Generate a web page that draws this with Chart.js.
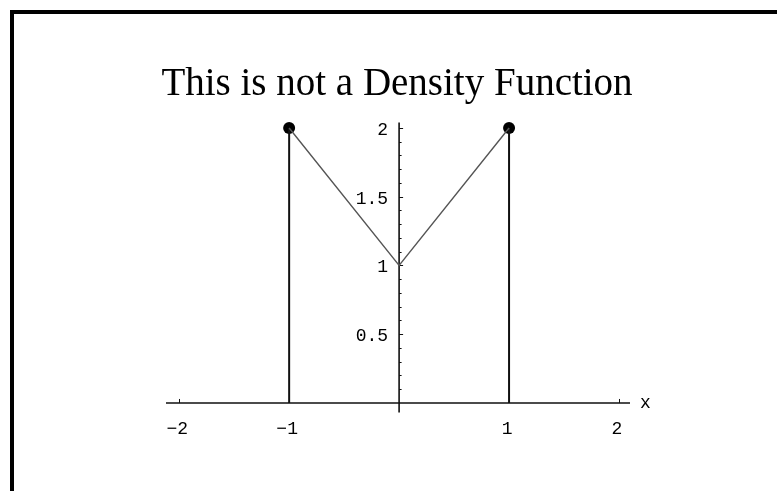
<!DOCTYPE html>
<html>
<head>
<meta charset="utf-8">
<script src="https://cdn.jsdelivr.net/npm/chart.js@4"></script>
<style>
  html, body { margin: 0; padding: 0; background: #fff; }
  #wrap { width: 777px; height: 491px; position: relative; }
</style>
</head>
<body>
<div id="wrap"><canvas id="densityChart" width="777" height="491"></canvas></div>
<script>
// the function f(x) on [-1, 1]
const fnX = [-1, 0, 1];
const fnY = [2, 1, 2];
// vertical segments at the ends of the support
const stemX = [-1, 1];
const stemY = [2, 2];
// axis ticks
const xTicks = [-2, -1, 1, 2];
const yTicks = [0.5, 1, 1.5, 2];
const yMinor = [0.1, 0.2, 0.3, 0.4, 0.6, 0.7, 0.8, 0.9, 1.1, 1.2, 1.3, 1.4, 1.6, 1.7, 1.8, 1.9];
const titleText = 'This is not a Density Function';

const fmt = v => (v < 0 ? '\u2212' : '') + Math.abs(v);

// Mathematica style axes crossing at the origin
const axesPlugin = {
    id: 'mmaAxes',
    beforeDraw(chart) {
        const { ctx, scales: { x, y } } = chart;
        ctx.save();
        // frame (left + top only)
        ctx.fillStyle = '#000';
        ctx.fillRect(10, 10, 767, 4);
        ctx.fillRect(10, 10, 4, 481);

        // title
        ctx.fillStyle = '#000';
        ctx.font = '39px "Liberation Serif", "Times New Roman", serif';
        ctx.textAlign = 'center';
        ctx.textBaseline = 'alphabetic';
        ctx.fillText(titleText, 397, 95);

        const x0 = x.getPixelForValue(0);
        const y0 = y.getPixelForValue(0);
        ctx.strokeStyle = '#111';
        ctx.lineWidth = 1.6;
        ctx.beginPath();
        ctx.moveTo(x.left, y0); ctx.lineTo(x.right, y0);
        ctx.moveTo(x0, y.bottom); ctx.lineTo(x0, y.top);
        ctx.stroke();

        ctx.lineWidth = 1;
        ctx.beginPath();
        xTicks.forEach(v => {
            const px = Math.round(x.getPixelForValue(v)) + 0.5;
            ctx.moveTo(px, y0); ctx.lineTo(px, y0 - 4);
        });
        yTicks.forEach(v => {
            const py = Math.round(y.getPixelForValue(v)) + 0.5;
            ctx.moveTo(x0, py); ctx.lineTo(x0 + 4, py);
        });
        yMinor.forEach(v => {
            const py = Math.round(y.getPixelForValue(v)) + 0.5;
            ctx.moveTo(x0, py); ctx.lineTo(x0 + 2.5, py);
        });
        ctx.stroke();

        ctx.fillStyle = '#000';
        ctx.font = '18px "Liberation Mono", "Courier New", monospace';
        ctx.textAlign = 'center';
        ctx.textBaseline = 'middle';
        xTicks.forEach(v => ctx.fillText(fmt(v), x.getPixelForValue(v) - 2, y0 + 26));
        ctx.textAlign = 'right';
        yTicks.forEach(v => ctx.fillText(fmt(v), x0 - 11, y.getPixelForValue(v) + 2));
        ctx.textAlign = 'left';
        ctx.fillText('x', x.right + 10, y0);
        ctx.restore();
    }
};

const ctxDensity = document.getElementById('densityChart').getContext('2d');
const densityChart = new Chart(ctxDensity, {
    type: 'scatter',
    data: {
        datasets: [
            {
                data: fnX.map((v, i) => ({ x: v, y: fnY[i] })),
                showLine: true,
                borderColor: '#555',
                borderWidth: 1.4,
                pointRadius: 0,
                clip: false
            },
            ...stemX.map((v, i) => ({
                data: [{ x: v, y: 0 }, { x: v, y: stemY[i] }],
                showLine: true,
                borderColor: '#111',
                borderWidth: 2,
                pointRadius: 0,
                clip: false
            })),
            {
                data: stemX.map((v, i) => ({ x: v, y: stemY[i] })),
                showLine: false,
                pointRadius: 6,
                pointBackgroundColor: '#000',
                pointBorderWidth: 0,
                clip: false
            }
        ]
    },
    plugins: [axesPlugin],
    options: {
        responsive: false,
        animation: false,
        events: [],
        layout: { padding: { left: 166, right: 147, top: 122.5, bottom: 78.4 } },
        plugins: { legend: { display: false }, title: { display: false }, tooltip: { enabled: false } },
        scales: {
            x: { type: 'linear', min: -2.12, max: 2.1, display: false },
            y: { type: 'linear', min: -0.07, max: 2.04, display: false }
        }
    }
});
</script>
</body>
</html>
